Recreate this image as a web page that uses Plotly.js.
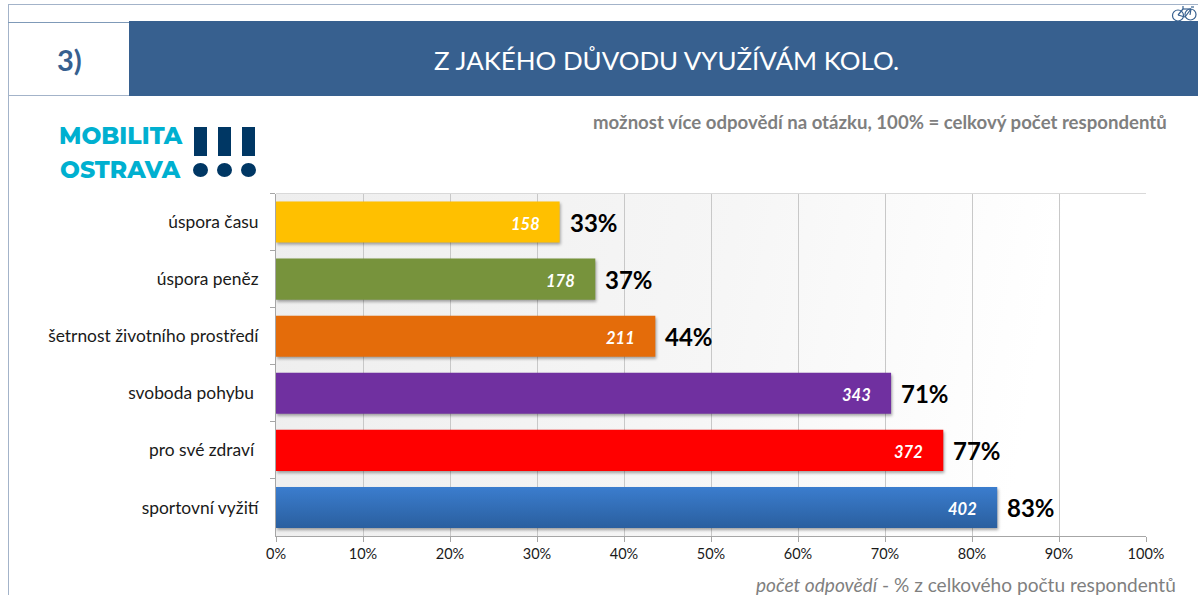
<!DOCTYPE html>
<html><head><meta charset="utf-8">
<script src="https://cdn.plot.ly/plotly-3.0.1.min.js"></script>
<style>
html,body{margin:0;padding:0;background:#fff;width:1198px;height:595px;overflow:hidden}
#bg{position:absolute;left:276px;top:193px;width:870px;height:343px;background:linear-gradient(100deg,#eeeeee 0%,#f6f6f6 50%,#ffffff 85%)}
#chart{position:absolute;left:0;top:0;width:1198px;height:595px}
</style></head><body>
<div id="bg"></div><div id="chart"></div>
<script>
const categories = ['úspora času','úspora peněz','šetrnost životního prostředí','svoboda pohybu ','pro své zdraví ','sportovní vyžití'];
const counts = [158,178,211,343,372,402];
const percents = [32.6,36.7,43.6,70.7,76.7,82.9];
const percentLabels = ['33%','37%','44%','71%','77%','83%'];
const colors = ['#FFC000','#77933C','#E46C0A','#7030A0','#FF0000','#3A78C3'];
const xTicks = [0,10,20,30,40,50,60,70,80,90,100];

const W=1198,H=595;
const px=x=>x/W, py=y=>1-y/H;
const FONT='Lato, "Open Sans", sans-serif';
const line=(x0,y0,x1,y1,color,width)=>({type:'line',xref:'paper',yref:'paper',x0:px(x0),y0:py(y0),x1:px(x1),y1:py(y1),line:{color,width:width||1},layer:'above'});
const rect=(x0,y0,x1,y1,fill)=>({type:'rect',xref:'paper',yref:'paper',x0:px(x0),y0:py(y0),x1:px(x1),y1:py(y1),fillcolor:fill,line:{width:0},layer:'above'});
const circ=(x0,y0,x1,y1,fill,lc)=>({type:'circle',xref:'paper',yref:'paper',x0:px(x0),y0:py(y0),x1:px(x1),y1:py(y1),fillcolor:fill,line:{width:lc?1.2:0,color:lc||fill},layer:'above'});
const txt=(x,y,text,size,color,xa,weight)=>({xref:'paper',yref:'paper',x:px(x),y:py(y),text,showarrow:false,xanchor:xa||'center',yanchor:'middle',font:{family:FONT,size,color,weight:weight||400}});

const NAVY='#003764',CY='#00B0D0',HDR='#37608F',BORD='#A3B3C9';
const shapes=[
  line(8,4.5,1198,4.5,BORD),line(8.5,4,8.5,595,BORD),
  line(8,22.5,129,22.5,'#7f9ab8'),line(8,95.5,1198,95.5,BORD),
  rect(129,21,1198,96,HDR),
  rect(194,127,207,156,NAVY),rect(218,127,231,156,NAVY),rect(242,127,255,156,NAVY),
  circ(193,163,208,177,NAVY),circ(217,163,232,177,NAVY),circ(241,163,256,177,NAVY),
  // bicycle icon
  circ(1172.5,10,1183.5,21,'rgba(0,0,0,0)',HDR),circ(1185,9,1196,20,'rgba(0,0,0,0)',HDR),
  line(1178,15,1183,9,HDR,1.2),line(1183,9,1191,9,HDR,1.2),line(1191,9,1190,15,HDR,1.2),line(1178,15,1185,17,HDR,1.2),
  line(1185,17,1191,9,HDR,1.2),line(1183,6,1183,9,HDR,1.2),line(1191,7,1194,7,HDR,1.2),
  // plot top edge
  line(276,193.5,1146,193.5,'#d9d9d9')
];
const annotations=[
  txt(69,60,'3)',29,HDR,'center',700),
  txt(666.5,60,'Z JAKÉHO DŮVODU VYUŽÍVÁM KOLO.',25.9,'#ffffff'),
  txt(1169,122,'možnost více odpovědí na otázku, 100% = celkový počet respondentů',18.6,'#7f7f7f','right',700),
  {xref:'paper',yref:'paper',x:px(57),y:py(136),text:'MOBILITA',showarrow:false,xanchor:'left',yanchor:'middle',font:{family:'Montserrat, "Open Sans", sans-serif',size:23.5,color:CY,weight:800}},
  {xref:'paper',yref:'paper',x:px(58),y:py(169),text:'OSTRAVA',showarrow:false,xanchor:'left',yanchor:'middle',font:{family:'Montserrat, "Open Sans", sans-serif',size:23.5,color:CY,weight:800}},
  txt(1177.5,584,'<i>počet odpovědí</i> - % z celkového počtu respondentů',19.1,'#7f7f7f','right')
];
categories.forEach((c,i)=>{
  annotations.push({xref:'x',yref:'y',x:percents[i],y:c,text:'<b><i>'+counts[i]+'</i></b>',showarrow:false,xanchor:'right',xshift:-18,yshift:-1.5,font:{family:FONT,size:16.5,color:'#ffffff'}});
  annotations.push({xref:'x',yref:'y',x:percents[i],y:c,text:percentLabels[i],showarrow:false,xanchor:'left',xshift:8,yshift:0,font:{family:FONT,size:24,color:'#000000',weight:700}});
});

const data=[
 {type:'bar',orientation:'h',y:categories,x:percents,width:0.72,marker:{color:colors,line:{width:0}},hoverinfo:'skip'}
];
const layout={
  width:W,height:H,margin:{l:0,r:0,t:0,b:0},showlegend:false,
  paper_bgcolor:'rgba(0,0,0,0)',plot_bgcolor:'rgba(0,0,0,0)',
  xaxis:{domain:[px(276),px(1146)],range:[0,100],tickvals:xTicks,ticktext:xTicks.map(v=>v+'%'),
    showgrid:true,gridcolor:'#c8c8c8',gridwidth:1,zeroline:false,showline:true,linecolor:'#a6a6a6',
    ticks:'outside',ticklen:5,tickcolor:'#a6a6a6',tickfont:{family:FONT,size:14.5,color:'#1a1a1a'},anchor:'y'},
  yaxis:{domain:[py(536),py(193.5)],type:'category',categoryorder:'array',categoryarray:categories,autorange:'reversed',
    tickson:'boundaries',showgrid:false,zeroline:false,showline:true,linecolor:'#a6a6a6',
    ticks:'outside',ticklen:5,tickcolor:'#a6a6a6',tickfont:{family:FONT,size:17.4,color:'#1a1a1a'},ticklabelstandoff:13,anchor:'x'},
  shapes,annotations
};
Plotly.newPlot('chart',data,layout,{staticPlot:true,displayModeBar:false}).then(()=>{
  const svg=document.querySelector('#chart .main-svg');
  const ns='http://www.w3.org/2000/svg';
  const defs=document.createElementNS(ns,'defs');
  defs.innerHTML='<linearGradient id="blueBar" x1="0" y1="0" x2="0" y2="1"><stop offset="0" stop-color="#3B7DCE"/><stop offset="1" stop-color="#2A5F9F"/></linearGradient>';
  svg.appendChild(defs);
  const paths=document.querySelectorAll('#chart .bars .point path');
  paths.forEach((p,i)=>{
    p.style.filter='drop-shadow(1px 2px 1.5px rgba(0,0,0,0.35))';
    if(i===paths.length-1) p.style.fill='url(#blueBar)';
  });
});
</script></body></html>
